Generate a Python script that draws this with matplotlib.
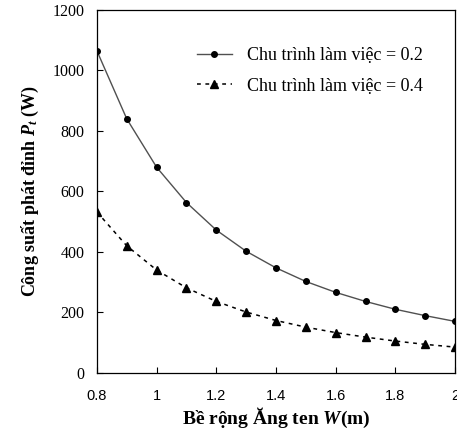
import matplotlib
matplotlib.use("Agg")
import matplotlib.pyplot as plt

plt.rcParams['mathtext.fontset'] = 'custom'
plt.rcParams['mathtext.rm'] = 'Liberation Serif:bold'
plt.rcParams['mathtext.it'] = 'Liberation Serif:italic:bold'
plt.rcParams['mathtext.bf'] = 'Liberation Serif:bold'

# antenna width (m)
width = [0.8, 0.9, 1.0, 1.1, 1.2, 1.3, 1.4, 1.5, 1.6, 1.7, 1.8, 1.9, 2.0]
# peak power (W), duty cycle 0.2 and 0.4
power_02 = [1065, 840, 680, 563, 472, 402, 347, 302, 266, 236, 210, 189, 170]
power_04 = [532, 420, 340, 281, 236, 201, 173, 151, 133, 118, 105, 94, 85]

x_ticks = [0.8, 1.0, 1.2, 1.4, 1.6, 1.8, 2.0]
x_labels = ['0.8', '1', '1.2', '1.4', '1.6', '1.8', '2']
y_ticks = [0, 200, 400, 600, 800, 1000, 1200]

fig = plt.figure(figsize=(4.57, 4.33), dpi=100)
ax = fig.add_axes([0.212, 0.139, 0.784, 0.838])

ax.plot(width, power_02, color='#505050', lw=1.0, marker='o', ms=4,
        mfc='black', mec='black', label='Chu trình làm việc = 0.2')
ax.plot(width, power_04, color='black', lw=1.1, ls=(0, (2.5, 3)), marker='^', ms=6,
        mfc='black', mec='black', label='Chu trình làm việc = 0.4')

ax.set_xlim(0.8, 2.0)
ax.set_ylim(0, 1200)
ax.set_xticks(x_ticks)
ax.set_xticklabels(x_labels)
ax.set_yticks(y_ticks)
ax.tick_params(direction='in', length=4, width=0.8)
ax.tick_params(axis='x', pad=12)
ax.tick_params(axis='y', pad=9)
for lab in ax.get_xticklabels():
    lab.set_fontfamily('Liberation Sans')
    lab.set_fontsize(10.5)
for lab in ax.get_yticklabels():
    lab.set_fontfamily('Liberation Serif')
    lab.set_fontsize(11.5)
for s in ax.spines.values():
    s.set_linewidth(0.9)

ax.set_xlabel('Bề rộng Ăng ten $W$(m)', family='Liberation Serif',
              fontweight='bold', fontsize=14, labelpad=2)
ax.set_ylabel('Công suất phát đỉnh $P_t$ (W)', family='Liberation Serif',
              fontweight='bold', fontsize=13, labelpad=8)

leg = ax.legend(loc='upper left', frameon=False, handlelength=1.95,
                prop={'family': 'Liberation Serif', 'size': 13},
                bbox_to_anchor=(0.279, 0.898), borderaxespad=0, borderpad=0,
                labelspacing=0.75, handletextpad=0.83)

fig.savefig('out.png', dpi=100)
